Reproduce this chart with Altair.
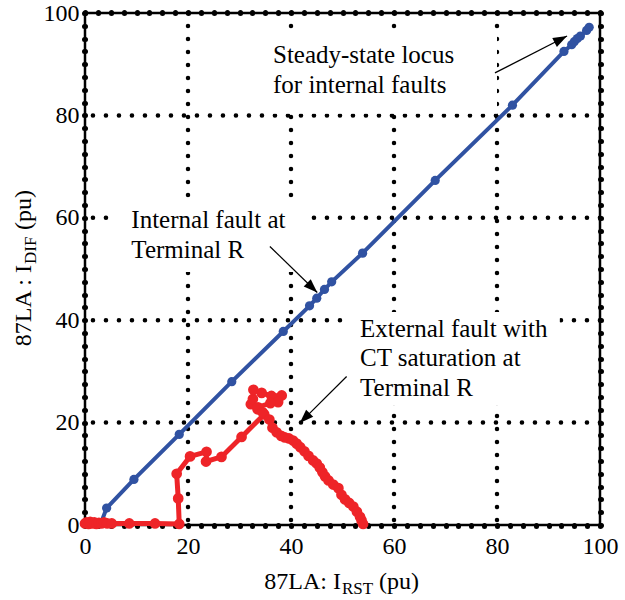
import altair as alt
import pandas as pd
import math

# ---------------- data ----------------
blue_x = [3.1, 4.2, 9.5, 18.3, 28.5, 38.5, 43.6, 45.0, 46.5, 47.9, 53.9, 68.0, 83.0,
          93.0, 94.5, 95.0, 95.6, 96.2, 97.4, 97.9]
blue_y = [0.4, 3.3, 8.9, 17.7, 28.0, 37.8, 42.8, 44.3, 46.0, 47.5, 53.1, 67.3, 82.0,
          92.5, 93.8, 94.4, 95.0, 95.5, 96.6, 97.2]

red_x = [0.0, 0.3, 0.7, 1.0, 1.4, 1.8, 2.2, 2.7, 3.2, 3.7, 4.3, 5.2, 8.6, 13.6, 18.3,
         18.1, 17.8, 20.4, 23.6, 23.5, 26.5, 30.4,
         34.8, 33.5, 32.2, 32.6, 32.7, 34.3, 36.2, 38.2, 37.5, 36.0, 33.6, 34.5, 35.8,
         36.4, 37.2, 38.1, 38.8, 39.6, 40.4, 41.1, 41.8, 42.6, 43.4, 44.3, 45.0, 45.6,
         46.1, 46.6, 47.3, 48.2, 49.2, 49.8, 50.5, 51.3, 52.1, 52.8, 53.4, 53.7, 54.0]
red_y = [0.3, 0.5, 0.2, 0.6, 0.3, 0.5, 0.2, 0.4, 0.3, 0.5, 0.3, 0.3, 0.3, 0.3, 0.2,
         5.2, 10.0, 13.4, 14.3, 12.4, 13.3, 17.2,
         21.6, 22.6, 23.6, 24.6, 26.4, 25.8, 25.2, 25.3, 24.0, 23.8, 23.0, 22.0, 20.6,
         19.0, 18.1, 17.4, 17.1, 16.9, 16.5, 15.9, 15.2, 14.4, 13.5, 12.6, 12.0, 11.2,
         10.3, 9.5, 8.7, 7.9, 7.2, 5.9, 5.0, 4.3, 3.6, 2.6, 1.6, 0.9, 0.2]

tick_values = [i * 2.5 for i in range(41)]
grid_values = [20, 40, 60, 80]

note_text = ["Steady-state locus", "for internal faults",
             "Internal fault at", "Terminal R",
             "External fault with", "CT saturation at", "Terminal R"]
note_x = [36.5, 36.5, 9.0, 9.0, 53.4, 53.4, 53.4]
note_y = [90.2, 84.4, 58.0, 52.1, 36.8, 31.0, 25.1]

# white backgrounds behind the annotation blocks (data units)
box_x0 = [35.9, 5.2, 50.5]
box_x1 = [80.0, 43.7, 92.2]
box_y0 = [80.3, 49.4, 23.4]
box_y1 = [95.5, 63.9, 41.6]

arrow_x0 = [79.6, 35.9, 50.8]
arrow_y0 = [88.3, 54.4, 29.0]
arrow_x1 = [93.6, 45.1, 41.7]
arrow_y1 = [95.5, 45.4, 19.9]

# ---------------- layout ----------------
W, H = 515, 512
PX = W / 100.0
PY = H / 100.0
FONT = "Liberation Serif"

blue_df = pd.DataFrame({"x": blue_x, "y": blue_y, "o": range(len(blue_x))})
red_df = pd.DataFrame({"x": red_x, "y": red_y, "o": range(len(red_x))})
notes_df = pd.DataFrame({"x": note_x, "y": note_y, "t": note_text})
boxes_df = pd.DataFrame({"x0": box_x0, "x1": box_x1, "y0": box_y0, "y1": box_y1})
angles = [(math.degrees(math.atan2((x1 - x0) * PX, (y1 - y0) * PY)) + 360) % 360
          for x0, y0, x1, y1 in zip(arrow_x0, arrow_y0, arrow_x1, arrow_y1)]
arrows_df = pd.DataFrame({"x0": arrow_x0, "y0": arrow_y0, "x1": arrow_x1,
                          "y1": arrow_y1, "a": angles})
grid_df = pd.DataFrame({"v": grid_values})
ticks_df = pd.DataFrame({"v": tick_values})
one_df = pd.DataFrame({"k": [0]})

sx = alt.Scale(domain=[0, 100], nice=False, zero=False)
sy = alt.Scale(domain=[0, 100], nice=False, zero=False)

label_expr = "datum.value % 20 == 0 ? datum.label : ''"
common_axis = dict(values=tick_values, tickSize=1, tickWidth=5, tickCap="round",
                   tickColor="black", domain=False, grid=False, title=None,
                   labelFont=FONT, labelFontSize=24, labelColor="black",
                   labelOverlap=False, labelFlush=False)

x_bottom = alt.Axis(orient="bottom", labelPadding=8, labelExpr=label_expr, **common_axis)
y_left = alt.Axis(orient="left", labelPadding=5, labelExpr=label_expr, **common_axis)
x_top = alt.Axis(orient="top", labels=False, **common_axis)
y_right = alt.Axis(orient="right", labels=False, **common_axis)

dots = dict(color="black", strokeWidth=4.5, strokeDash=[0.1, 12.9], strokeCap="round")
gx = alt.Chart(grid_df).mark_rule(**dots).encode(x=alt.X("v:Q", scale=sx, axis=None))
gy = alt.Chart(grid_df).mark_rule(**dots).encode(y=alt.Y("v:Q", scale=sy, axis=None))

boxes = alt.Chart(boxes_df).mark_rect(color="white", opacity=1).encode(
    x=alt.X("x0:Q", scale=sx, axis=None), x2="x1:Q",
    y=alt.Y("y0:Q", scale=sy, axis=None), y2="y1:Q")

blue_col = "#3052A2"
red_col = "#EE2428"

blue = alt.Chart(blue_df).mark_line(color=blue_col, strokeWidth=4,
                                    point=alt.OverlayMarkDef(color=blue_col, size=85, filled=True, opacity=1)).encode(
    x=alt.X("x:Q", scale=sx, axis=None), y=alt.Y("y:Q", scale=sy, axis=None), order="o:Q")

red = alt.Chart(red_df).mark_line(color=red_col, strokeWidth=5,
                                  point=alt.OverlayMarkDef(color=red_col, size=115, filled=True, opacity=1)).encode(
    x=alt.X("x:Q", scale=sx, axis=x_bottom), y=alt.Y("y:Q", scale=sy, axis=y_left), order="o:Q")

frame = alt.Chart(ticks_df).mark_point(opacity=0).encode(
    x=alt.X("v:Q", scale=sx, axis=x_top), y=alt.Y("v:Q", scale=sy, axis=y_right))

notes = alt.Chart(notes_df).mark_text(align="left", baseline="alphabetic", font=FONT,
                                      fontSize=25, color="black").encode(
    x=alt.X("x:Q", scale=sx, axis=None), y=alt.Y("y:Q", scale=sy, axis=None), text="t:N")

arrow_lines = alt.Chart(arrows_df).mark_rule(color="black", strokeWidth=1.2).encode(
    x=alt.X("x0:Q", scale=sx, axis=None), y=alt.Y("y0:Q", scale=sy, axis=None),
    x2="x1:Q", y2="y1:Q")
arrow_heads = alt.Chart(arrows_df).mark_point(
    shape="M0,0 L0.36,1 L-0.36,1 Z", size=784, filled=True, color="black",
    opacity=1, strokeWidth=0).encode(
    x=alt.X("x1:Q", scale=sx, axis=None), y=alt.Y("y1:Q", scale=sy, axis=None),
    angle=alt.Angle("a:Q", scale=None))

# axis titles with subscripts (pixel positions relative to plot origin)
tf = dict(font=FONT, color="black", baseline="alphabetic")
xt1 = alt.Chart(one_df).mark_text(text="87LA: I", align="right", fontSize=24, **tf).encode(
    x=alt.value(256), y=alt.value(576))
xt2 = alt.Chart(one_df).mark_text(text="RST", align="left", fontSize=17, **tf).encode(
    x=alt.value(257), y=alt.value(581))
xt3 = alt.Chart(one_df).mark_text(text="(pu)", align="left", fontSize=24, **tf).encode(
    x=alt.value(294), y=alt.value(576))
yt1 = alt.Chart(one_df).mark_text(text="87LA : I", align="right", angle=270, fontSize=24, **tf).encode(
    x=alt.value(-54), y=alt.value(252))
yt2 = alt.Chart(one_df).mark_text(text="DIF", align="left", angle=270, fontSize=17, **tf).encode(
    x=alt.value(-49), y=alt.value(251))
yt3 = alt.Chart(one_df).mark_text(text="(pu)", align="left", angle=270, fontSize=24, **tf).encode(
    x=alt.value(-54), y=alt.value(217))

chart = alt.layer(gx, gy, boxes, blue, red, frame, notes, arrow_lines, arrow_heads,
                  xt1, xt2, xt3, yt1, yt2, yt3).resolve_axis(
    x="independent", y="independent").properties(
    width=W, height=H, autosize=alt.AutoSizeParams(type="none"),
    padding={"left": 85, "top": 13, "right": 25, "bottom": 75},
    background="white").configure_view(stroke="black", strokeWidth=2.5)

chart.save("out.html", embed_options={"renderer": "svg", "actions": False})
